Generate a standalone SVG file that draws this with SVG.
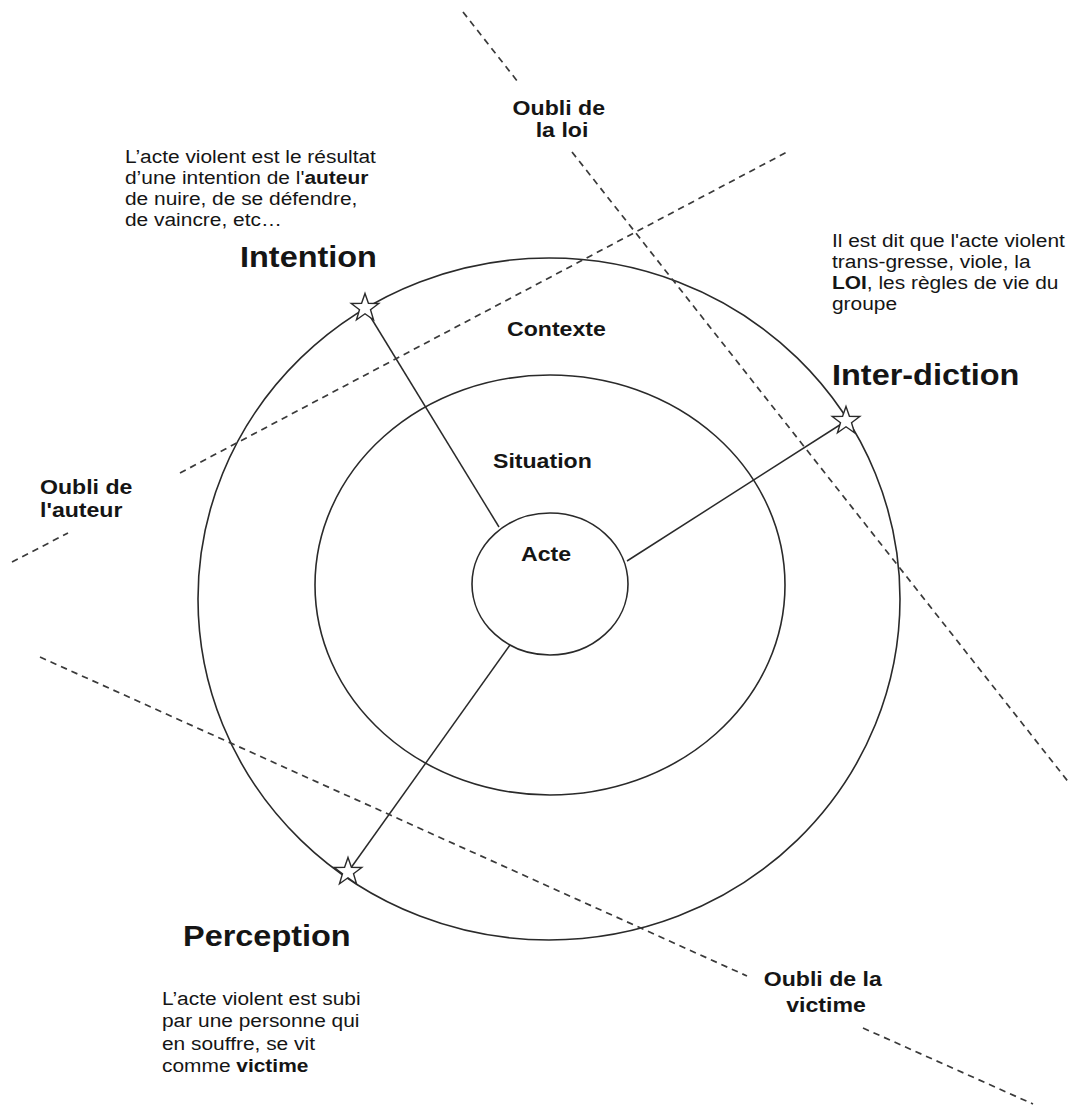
<svg xmlns="http://www.w3.org/2000/svg" xmlns:xlink="http://www.w3.org/1999/xlink" width="1073" height="1106" viewBox="0 0 1073 1106">
  <style>
    .ring { fill: none; stroke: #2a2a2a; stroke-width: 1.6; }
    .spoke { stroke: #2a2a2a; stroke-width: 1.5; fill: none; }
    .border { stroke: #3a3a3a; stroke-width: 1.7; stroke-dasharray: 6.5 5; fill: none; }
    .star { fill: #fff; stroke: #2a2a2a; stroke-width: 1.4; stroke-linejoin: miter; }
    text { font-family: "Liberation Sans", Arial, sans-serif; fill: #151515; }
    .title { font-size: 29.5px; font-weight: bold; }
    .label { font-size: 21px; font-weight: bold; }
    .note { font-size: 19px; }
    .note tspan.b { font-weight: bold; }
  </style>
  <defs>
    <polygon id="star" class="star" points="0,-14.5 3.41,-4.69 13.79,-4.48 5.52,1.79 8.52,11.73 0,5.8 -8.52,11.73 -5.52,1.79 -13.79,-4.48 -3.41,-4.69"/>
  </defs>

  <rect width="1073" height="1106" fill="#fff"/>

  <!-- concentric rings -->
  <g id="contexte">
    <ellipse class="ring" cx="549" cy="599" rx="351" ry="341"/>
    <text class="label" transform="translate(507 336) scale(1.1 1)">Contexte</text>
  </g>
  <g id="situation">
    <ellipse class="ring" cx="550" cy="585" rx="235" ry="210"/>
    <text class="label" transform="translate(493 468) scale(1.1 1)">Situation</text>
  </g>

  <!-- spokes and the three "oubli" boundaries -->
  <g id="connectors">
    <line class="spoke" x1="365" y1="308" x2="499" y2="527"/>
    <line class="spoke" x1="846" y1="421" x2="627" y2="561"/>
    <line class="spoke" x1="348" y1="872" x2="510" y2="645"/>

    <line class="border" x1="463" y1="12" x2="518" y2="82"/>
    <line class="border" x1="572" y1="152" x2="1070" y2="784"/>

    <line class="border" x1="12" y1="562" x2="68" y2="533"/>
    <line class="border" x1="180" y1="473" x2="787" y2="152"/>

    <line class="border" x1="40" y1="657" x2="747" y2="976"/>
    <line class="border" x1="863" y1="1028" x2="1033" y2="1104"/>
  </g>

  <g id="acte">
    <ellipse class="ring" cx="550" cy="584" rx="78" ry="71" fill="#fff"/>
    <text class="label" transform="translate(521 561) scale(1.1 1)">Acte</text>
  </g>

  <g id="intention">
    <use xlink:href="#star" x="365" y="308"/>
    <text class="title" transform="translate(240 267) scale(1.1 1)">Intention</text>
    <text class="note" transform="translate(125 163) scale(1.1 1)">
      <tspan x="0" y="0">L’acte violent est le résultat</tspan>
      <tspan x="0" y="21">d’une intention de l'<tspan class="b">auteur</tspan></tspan>
      <tspan x="0" y="42">de nuire, de se défendre,</tspan>
      <tspan x="0" y="63">de vaincre, etc…</tspan>
    </text>
  </g>

  <g id="interdiction">
    <use xlink:href="#star" x="846" y="421"/>
    <text class="title" transform="translate(832 385) scale(1.1 1)">Inter-diction</text>
    <text class="note" transform="translate(832 247) scale(1.1 1)">
      <tspan x="0" y="0">Il est dit que l'acte violent</tspan>
      <tspan x="0" y="21">trans-gresse, viole, la</tspan>
      <tspan x="0" y="42"><tspan class="b">LOI</tspan>, les règles de vie du</tspan>
      <tspan x="0" y="63">groupe</tspan>
    </text>
  </g>

  <g id="perception">
    <use xlink:href="#star" x="348" y="872"/>
    <text class="title" transform="translate(183 946) scale(1.1 1)">Perception</text>
    <text class="note" transform="translate(162 1005) scale(1.1 1)">
      <tspan x="0" y="0">L’acte violent est subi</tspan>
      <tspan x="0" y="22.5">par une personne qui</tspan>
      <tspan x="0" y="45">en souffre, se vit</tspan>
      <tspan x="0" y="67.5">comme <tspan class="b">victime</tspan></tspan>
    </text>
  </g>

  <g id="oubli-loi">
    <text class="label" text-anchor="middle" transform="translate(562 115) scale(1.1 1)">
      <tspan x="0" y="0">Oubli de</tspan>
      <tspan x="0" y="22">la loi</tspan>
    </text>
  </g>
  <g id="oubli-auteur">
    <text class="label" transform="translate(40 494) scale(1.1 1)">
      <tspan x="0" y="0">Oubli de</tspan>
      <tspan x="0" y="23">l'auteur</tspan>
    </text>
  </g>
  <g id="oubli-victime">
    <text class="label" text-anchor="middle" transform="translate(826 986) scale(1.1 1)">
      <tspan x="0" y="0">Oubli de la</tspan>
      <tspan x="0" y="26">victime</tspan>
    </text>
  </g>
</svg>
